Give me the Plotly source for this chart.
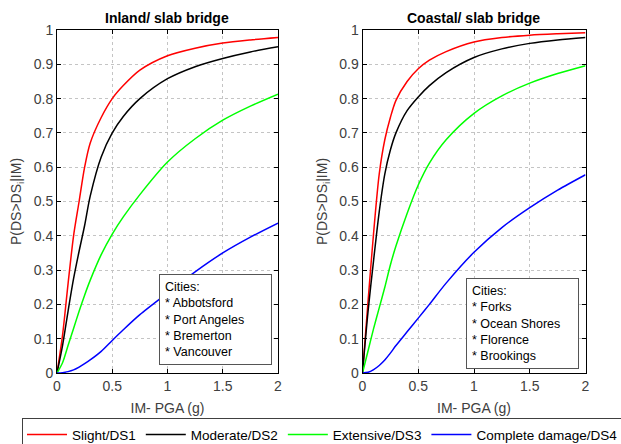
import plotly.graph_objects as go

# PGA sample points (g)
pga = [0, 0.05, 0.1, 0.15, 0.2, 0.25, 0.3, 0.4, 0.5, 0.6, 0.75, 1.0, 1.25, 1.5, 1.75, 2.0]

# Inland / slab bridge
inland_ds1 = [0, 0.11, 0.26, 0.40, 0.50, 0.60, 0.67, 0.745, 0.80, 0.838, 0.883, 0.925, 0.947, 0.962, 0.971, 0.978]
inland_ds2 = [0, 0.08, 0.18, 0.275, 0.355, 0.43, 0.515, 0.63, 0.70, 0.748, 0.80, 0.858, 0.893, 0.917, 0.936, 0.951]
inland_ds3 = [0, 0.03, 0.08, 0.13, 0.18, 0.227, 0.27, 0.345, 0.405, 0.455, 0.52, 0.615, 0.683, 0.737, 0.778, 0.813]
inland_ds4 = [0, 0.001, 0.004, 0.009, 0.017, 0.027, 0.038, 0.063, 0.095, 0.126, 0.17, 0.233, 0.295, 0.35, 0.396, 0.437]

# Coastal / slab bridge
coastal_ds1 = [0, 0.21, 0.41, 0.58, 0.68, 0.745, 0.795, 0.85, 0.887, 0.912, 0.937, 0.965, 0.978, 0.985, 0.989, 0.992]
coastal_ds2 = [0, 0.18, 0.33, 0.47, 0.58, 0.65, 0.70, 0.765, 0.805, 0.838, 0.876, 0.92, 0.945, 0.961, 0.971, 0.978]
coastal_ds3 = [0, 0.065, 0.13, 0.19, 0.25, 0.315, 0.37, 0.465, 0.548, 0.612, 0.68, 0.757, 0.808, 0.845, 0.873, 0.896]
coastal_ds4 = [0, 0.002, 0.01, 0.022, 0.038, 0.058, 0.08, 0.12, 0.16, 0.20, 0.262, 0.352, 0.424, 0.482, 0.533, 0.578]

series_names = ["Slight/DS1", "Moderate/DS2", "Extensive/DS3", "Complete damage/DS4"]
series_colors = ["#ff0000", "#000000", "#00ff00", "#0000ff"]

x_tickvals = [0, 0.5, 1, 1.5, 2]
x_ticktext = ["0", "0.5", "1", "1.5", "2"]
y_tickvals = [0, 0.1, 0.2, 0.3, 0.4, 0.5, 0.6, 0.7, 0.8, 0.9, 1]
y_ticktext = ["0", "0.1", "0.2", "0.3", "0.4", "0.5", "0.6", "0.7", "0.8", "0.9", "1"]

panel_titles = ["Inland/ slab bridge", "Coastal/ slab bridge"]
inland_cities = ["Abbotsford", "Port Angeles", "Bremerton", "Vancouver"]
coastal_cities = ["Forks", "Ocean Shores", "Florence", "Brookings"]

FONT = "Arial, Liberation Sans, sans-serif"

fig = go.Figure()
inland = [inland_ds1, inland_ds2, inland_ds3, inland_ds4]
coastal = [coastal_ds1, coastal_ds2, coastal_ds3, coastal_ds4]
for i, (name, col) in enumerate(zip(series_names, series_colors)):
    fig.add_trace(go.Scatter(x=pga, y=inland[i], mode="lines", name=name,
                             line=dict(color=col, width=1.5, shape="spline", smoothing=0.8),
                             xaxis="x", yaxis="y", legendgroup=name))
for i, (name, col) in enumerate(zip(series_names, series_colors)):
    fig.add_trace(go.Scatter(x=pga, y=coastal[i], mode="lines", name=name,
                             line=dict(color=col, width=1.5, shape="spline", smoothing=0.8),
                             xaxis="x2", yaxis="y2", legendgroup=name, showlegend=False))

W, H = 621, 444
L1, R1 = 57, 278
L2, R2 = 362.5, 585.5
TOP, BOT = 30, 373

def xax(dom, anchor):
    return dict(domain=dom, anchor=anchor, range=[0, 2], tickvals=x_tickvals, ticktext=x_ticktext,
                automargin=False,
                showgrid=True, gridcolor="#c4c4c4", griddash="dot", gridwidth=1,
                showline=True, linecolor="black", linewidth=1, mirror="ticks",
                ticks="inside", ticklen=4, tickcolor="black", zeroline=False,
                tickfont=dict(family=FONT, size=14, color="#404040"),
                title=dict(text="IM- PGA (g)", font=dict(family=FONT, size=14, color="#404040"), standoff=10))

def yax(anchor):
    return dict(domain=[1 - BOT / H, 1 - TOP / H], anchor=anchor, range=[0, 1],
                tickvals=y_tickvals, ticktext=y_ticktext, automargin=False,
                showgrid=True, gridcolor="#c4c4c4", griddash="dot", gridwidth=1,
                showline=True, linecolor="black", linewidth=1, mirror="ticks",
                ticks="inside", ticklen=4, tickcolor="black", zeroline=False,
                tickfont=dict(family=FONT, size=14, color="#404040"),
                title=dict(text="P(DS>DS<sub>i</sub>|IM)", font=dict(family=FONT, size=14, color="#404040"), standoff=8))

annotations = []
for title, l, r in [(panel_titles[0], L1, R1), (panel_titles[1], L2, R2)]:
    annotations.append(dict(text="<b>" + title + "</b>", x=(l + r) / 2 / W, y=1 - 18 / H,
                            xref="paper", yref="paper", xanchor="center", yanchor="middle",
                            showarrow=False, font=dict(family=FONT, size=14, color="black")))

def cities_text(cities):
    return "Cities:<br>" + "<br>".join("* " + c for c in cities)

annotations.append(dict(text=cities_text(inland_cities), x=158.7 / W, y=1 - 274 / H,
                        xref="paper", yref="paper", xanchor="left", yanchor="top", align="left",
                        showarrow=False, bgcolor="white", bordercolor="#555555", borderwidth=1,
                        borderpad=5, width=101,
                        font=dict(family=FONT, size=12.5, color="black")))
annotations.append(dict(text=cities_text(coastal_cities), x=465.7 / W, y=1 - 278 / H,
                        xref="paper", yref="paper", xanchor="left", yanchor="top", align="left",
                        showarrow=False, bgcolor="white", bordercolor="#555555", borderwidth=1,
                        borderpad=5, width=101,
                        font=dict(family=FONT, size=12.5, color="black")))

fig.update_layout(
    width=W, height=H, margin=dict(l=0, r=0, t=0, b=0, autoexpand=False),
    paper_bgcolor="white", plot_bgcolor="white",
    font=dict(family=FONT),
    xaxis=xax([L1 / W, R1 / W], "y"),
    yaxis=yax("x"),
    xaxis2=xax([L2 / W, R2 / W], "y2"),
    yaxis2=yax("x2"),
    annotations=annotations,
    showlegend=True,
    legend=dict(orientation="h", x=22 / W, xanchor="left", y=-0.016, yanchor="bottom",
                itemwidth=40,
                bordercolor="#404040", borderwidth=1, bgcolor="white",
                font=dict(family=FONT, size=13.5, color="black")),
)

fig.write_html("out.html")
